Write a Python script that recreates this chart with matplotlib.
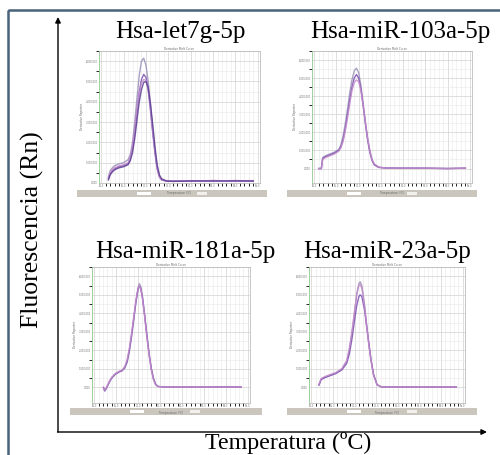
"melt curves - four miRNA panels"
import matplotlib
matplotlib.use("Agg")
import matplotlib.pyplot as plt
from matplotlib.patches import Rectangle

"data read from the picture (temperature, -dRn/dT in units of 1e6)"
titles = ["Hsa-let7g-5p", "Hsa-miR-103a-5p", "Hsa-miR-181a-5p", "Hsa-miR-23a-5p"]

temp_let7g = [61.6, 62.0, 62.5, 63.0, 64.0, 65.0, 66.0, 66.5, 67.0, 67.5, 68.0, 68.5, 69.0, 69.5,
              70.0, 70.5, 71.0, 71.5, 72.0, 72.5, 73.0, 73.5, 74.5, 76, 80, 85, 90, 94]
let7g_a = [0.3, 0.6, 0.75, 0.85, 0.95, 1.0, 1.15, 1.4, 2.0, 3.0, 4.2, 5.3, 6.0, 6.15,
           5.8, 5.0, 3.9, 2.7, 1.6, 0.8, 0.35, 0.2, 0.12, 0.1, 0.1, 0.12, 0.1, 0.1]
let7g_b = [0.2, 0.45, 0.6, 0.7, 0.8, 0.85, 0.95, 1.2, 1.7, 2.5, 3.5, 4.5, 5.1, 5.35,
           5.2, 4.6, 3.6, 2.5, 1.5, 0.7, 0.3, 0.15, 0.1, 0.08, 0.1, 0.1, 0.12, 0.1]
let7g_c = [0.25, 0.5, 0.65, 0.75, 0.85, 0.9, 1.0, 1.25, 1.8, 2.6, 3.6, 4.4, 4.9, 5.1,
           5.05, 4.6, 3.7, 2.6, 1.6, 0.75, 0.3, 0.15, 0.1, 0.1, 0.1, 0.12, 0.1, 0.1]
let7g_d = [0.15, 0.4, 0.55, 0.65, 0.75, 0.8, 0.9, 1.1, 1.5, 2.2, 3.1, 4.0, 4.6, 4.95,
           5.0, 4.7, 3.9, 2.9, 1.8, 0.9, 0.4, 0.2, 0.1, 0.08, 0.1, 0.1, 0.1, 0.1]

temp_103a = [61.0, 61.6, 61.9, 62.5, 63.5, 64.5, 65.5, 66.0, 66.5, 67.0, 67.5, 68.0, 68.5, 69.0,
             69.5, 70.0, 70.5, 71.0, 71.5, 72.0, 72.5, 73.0, 73.5, 74.5, 76, 80, 85, 90, 94]
mir103a_a = [0, 0, 0.6, 0.7, 0.8, 0.9, 1.05, 1.3, 1.8, 2.5, 3.3, 4.2, 4.9, 5.4,
             5.55, 5.3, 4.6, 3.6, 2.6, 1.7, 1.0, 0.5, 0.25, 0.08, 0.03, 0.02, 0.02, 0.0, 0.02]
mir103a_b = [0, 0, 0.55, 0.65, 0.75, 0.85, 1.0, 1.2, 1.6, 2.2, 3.0, 3.8, 4.5, 5.0,
             5.2, 5.0, 4.4, 3.5, 2.5, 1.6, 0.9, 0.45, 0.2, 0.06, 0.03, 0.02, 0.02, 0.0, 0.02]
mir103a_c = [0, 0, 0.5, 0.6, 0.7, 0.8, 0.95, 1.15, 1.5, 2.1, 2.8, 3.6, 4.3, 4.75,
             4.9, 4.8, 4.3, 3.5, 2.6, 1.7, 1.0, 0.5, 0.25, 0.08, 0.03, 0.02, 0.02, 0.0, 0.02]

temp_181a = [62.1, 62.4, 62.8, 63.4, 64.0, 64.8, 65.6, 66.4, 67.0, 67.5, 68.0, 68.5, 69.0, 69.5, 70.0,
             70.3, 70.6, 71.0, 71.5, 72.0, 72.5, 73.0, 73.5, 74.0, 74.5, 76, 80, 85, 90, 93.5]
mir181a_a = [0.0, -0.2, -0.05, 0.25, 0.5, 0.7, 0.82, 0.9, 1.05, 1.35, 1.9, 2.7, 3.6, 4.6, 5.4,
             5.6, 5.45, 4.9, 3.9, 2.8, 1.8, 1.0, 0.45, 0.15, 0.05, 0.02, 0.02, 0.02, 0.02, 0.02]
mir181a_b = [0.0, -0.18, -0.02, 0.28, 0.52, 0.72, 0.84, 0.92, 1.1, 1.4, 2.0, 2.8, 3.7, 4.6, 5.3,
             5.45, 5.35, 4.85, 3.9, 2.85, 1.85, 1.05, 0.5, 0.18, 0.06, 0.02, 0.02, 0.02, 0.03, 0.02]
mir181a_c = [0.0, -0.15, 0.0, 0.3, 0.55, 0.75, 0.86, 0.95, 1.15, 1.5, 2.1, 2.9, 3.8, 4.7, 5.35,
             5.5, 5.3, 4.8, 3.8, 2.7, 1.75, 0.95, 0.42, 0.14, 0.05, 0.02, 0.02, 0.02, 0.02, 0.02]

temp_23a = [61.8, 62.3, 63.1, 64.2, 65.7, 67.1, 68.2, 68.8, 69.4, 70.0, 70.5, 71.0, 71.3,
            71.7, 72.3, 72.8, 73.3, 73.8, 74.4, 75.2, 76.2, 80, 85, 90, 93.5]
mir23a_a = [0.15, 0.45, 0.55, 0.65, 0.78, 1.0, 1.4, 2.0, 2.9, 4.0, 5.0, 5.6, 5.7,
            5.5, 4.5, 3.4, 2.4, 1.5, 0.7, 0.15, 0.03, 0.02, 0.02, 0.02, 0.02]
mir23a_b = [0.12, 0.42, 0.52, 0.62, 0.75, 0.95, 1.3, 1.8, 2.6, 3.6, 4.4, 4.9, 5.0,
            4.9, 4.2, 3.3, 2.4, 1.5, 0.7, 0.15, 0.03, 0.02, 0.02, 0.02, 0.02]
mir23a_c = [0.18, 0.48, 0.58, 0.68, 0.8, 1.02, 1.45, 2.1, 3.0, 4.1, 5.0, 5.5, 5.55,
            5.35, 4.4, 3.3, 2.3, 1.45, 0.65, 0.14, 0.03, 0.02, 0.02, 0.02, 0.02]

x_ticks = [60, 65, 70, 75, 80, 85, 90, 95]
x_ticklabels = ["60.0", "65.0", "70.0", "75.0", "80.0", "85.0", "90.0", "95.0"]
y_ticks = [0, 1, 2, 3, 4, 5, 6]
y_ticklabels = ["0.000", "1,000,000", "2,000,000", "3,000,000", "4,000,000", "5,000,000", "6,000,000"]

panels = [
    (temp_let7g, [let7g_a, let7g_b, let7g_c, let7g_d]),
    (temp_103a, [mir103a_a, mir103a_b, mir103a_c]),
    (temp_181a, [mir181a_a, mir181a_b, mir181a_c]),
    (temp_23a, [mir23a_a, mir23a_b, mir23a_c]),
]

"layout in pixels: plot box (x0, y0, x1, y1), screenshot bar, title position"
W, H = 500, 455
plot_boxes = [(99, 51, 260, 183), (312, 51, 472, 183), (92, 267, 250, 403), (309, 267, 465, 403)]
bar_boxes = [(77, 190, 267, 197), (287, 190, 477, 197), (70, 408, 262, 415), (287, 408, 477, 415)]
title_pos = [(180, 32), (400, 32), (185, 252), (387, 252)]
ylims = [(0.0, 6.4), (-0.8, 6.25), (-0.84, 6.35), (-0.84, 6.35)]
line_colors = ["#9a8fb8", "#7a4fb0", "#c58ccc", "#5b3f95"]

fig = plt.figure(figsize=(5.0, 4.55), dpi=100)

"background axes for frame, arrows and labels"
bg = fig.add_axes([0, 0, 1, 1])
bg.set_xlim(0, W)
bg.set_ylim(H, 0)
bg.axis("off")
bg.add_patch(Rectangle((8, 10), 510, 470, fill=False, edgecolor="#48637a", lw=1.8))
bg.annotate("", xy=(58, 17), xytext=(58, 432),
            arrowprops=dict(arrowstyle="-|>", lw=1.0, color="black", mutation_scale=8, shrinkA=0, shrinkB=0))
bg.annotate("", xy=(487, 432), xytext=(57.5, 432),
            arrowprops=dict(arrowstyle="-|>", lw=1.0, color="black", mutation_scale=8, shrinkA=0, shrinkB=0))
bg.text(32, 230, "Fluorescencia (Rn)", rotation=90, ha="center", va="center",
        fontsize=18.5, family="Liberation Serif")
bg.text(288, 443, "Temperatura (ºC)", ha="center", va="center", fontsize=17.3, family="Liberation Serif")

for i, (temps, reps) in enumerate(panels):
    tx, ty = title_pos[i]
    bg.text(tx, ty, titles[i], ha="center", va="center", fontsize=18, family="Liberation Serif")

    bx0, by0, bx1, by1 = bar_boxes[i]
    bg.add_patch(Rectangle((bx0, by0), bx1 - bx0, by1 - by0, color="#cac6be", lw=0))
    bg.add_patch(Rectangle((bx0 + 60, by0 + 2), 14, 3, color="white", lw=0))
    bg.add_patch(Rectangle((bx0 + 120, by0 + 2), 10, 3, color="#f2f0ec", lw=0))

    x0, y0, x1, y1 = plot_boxes[i]
    ax = fig.add_axes([x0 / W, 1 - y1 / H, (x1 - x0) / W, (y1 - y0) / H])
    for k, vals in enumerate(reps):
        ax.plot(temps, vals, color=line_colors[k], lw=1.0, alpha=0.85)

    ax.set_xlim(59.5, 95.5)
    ax.set_ylim(*ylims[i])
    ax.set_xticks(x_ticks)
    ax.set_xticklabels(x_ticklabels)
    ax.set_yticks(y_ticks)
    ax.set_yticklabels(y_ticklabels)
    ax.set_xticks(range(60, 96), minor=True)
    ax.set_yticks([v + 0.5 for v in y_ticks], minor=True)
    ax.grid(which="major", color="#d2d2d2", lw=0.5)
    ax.grid(which="minor", color="#e8e8e8", lw=0.4)
    ax.set_axisbelow(True)
    ax.tick_params(labelsize=1.8, labelcolor="#777777", length=0, pad=1)
    for s in ["top", "right", "bottom"]:
        ax.spines[s].set_color("#b0b0b0")
        ax.spines[s].set_linewidth(0.5)
    ax.spines["left"].set_color("#8cc98c")
    ax.spines["left"].set_linewidth(0.6)
    ax.set_title("Derivative Melt Curve", fontsize=2, color="#666666", pad=0.5)
    ax.set_xlabel("Temperature (°C)", fontsize=2, color="#666666", labelpad=0.5)
    ax.set_ylabel("Derivative Reporter", fontsize=2, color="#666666", labelpad=1)

fig.savefig("out.png", dpi=100)
